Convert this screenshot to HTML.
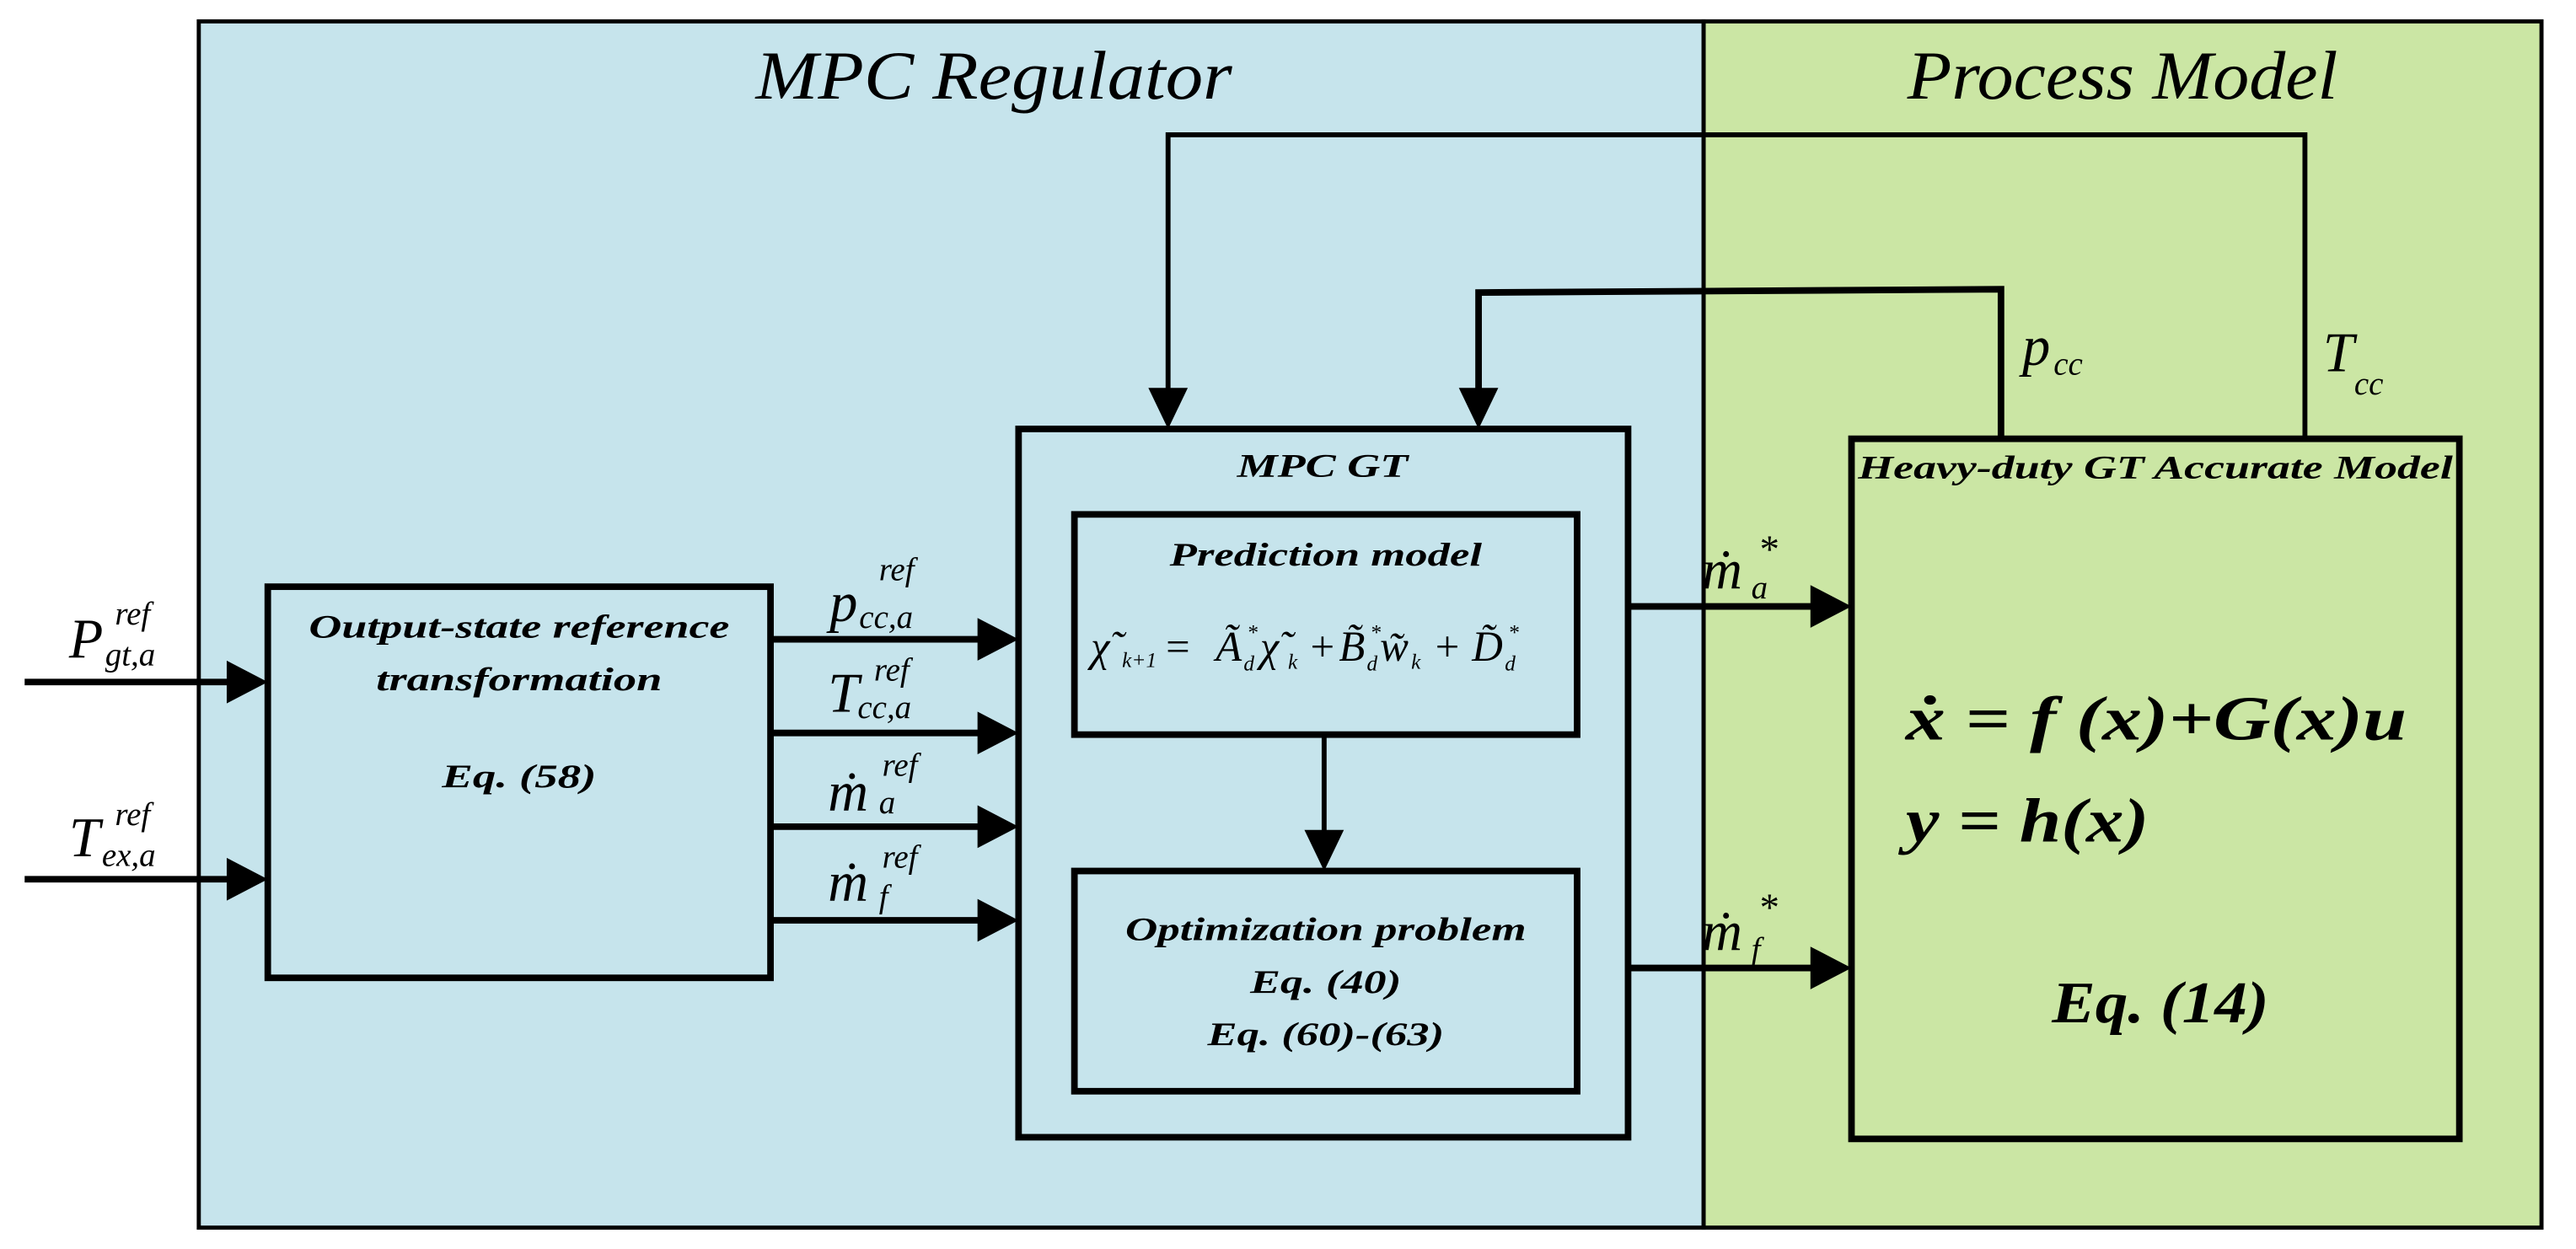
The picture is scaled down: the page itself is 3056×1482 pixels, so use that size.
<!DOCTYPE html>
<html><head><meta charset="utf-8"><style>
html,body{margin:0;padding:0;background:#fff;}
svg{display:block;}
svg text{font-family:"Liberation Serif","Times New Roman",Times,serif;font-style:italic;}
.b{font-weight:bold;}
.eq{font-size:26px;}
.es{font-size:13px;}
</style></head><body>
<svg width="3056" height="1482" viewBox="0 0 1568 760" preserveAspectRatio="none" xmlns="http://www.w3.org/2000/svg" font-family="Liberation Serif, Times New Roman, serif">
<rect x="121" y="13" width="916" height="734" fill="#c6e4ec" stroke="#000" stroke-width="2.5"/>
<rect x="1037" y="13" width="510" height="734" fill="#cbe6a4" stroke="#000" stroke-width="2.5"/>
<text x="605" y="60" font-size="42" text-anchor="middle" textLength="290" lengthAdjust="spacingAndGlyphs">MPC Regulator</text>
<text x="1292" y="60" font-size="42" text-anchor="middle" textLength="262" lengthAdjust="spacingAndGlyphs">Process Model</text>

<g fill="none" stroke="#000">
<polyline points="1403,267 1403,82 711,82 711,245" stroke-width="3"/>
<polyline points="1218,267 1218,176 900,178 900,245" stroke-width="4"/>
<rect x="163" y="357" width="306" height="238" stroke-width="4"/>
<rect x="620" y="261" width="371" height="431" stroke-width="4"/>
<rect x="654" y="313" width="306" height="134" stroke-width="4"/>
<rect x="654" y="530" width="306" height="134" stroke-width="4"/>
<rect x="1127" y="267" width="370" height="426" stroke-width="4"/>
<line x1="15" y1="415" x2="140" y2="415" stroke-width="4"/>
<line x1="15" y1="535" x2="140" y2="535" stroke-width="4"/>
<line x1="469" y1="389" x2="597" y2="389" stroke-width="4"/>
<line x1="469" y1="446" x2="597" y2="446" stroke-width="4"/>
<line x1="469" y1="503" x2="597" y2="503" stroke-width="4"/>
<line x1="469" y1="560" x2="597" y2="560" stroke-width="4"/>
<line x1="991" y1="369" x2="1104" y2="369" stroke-width="4"/>
<line x1="991" y1="589" x2="1104" y2="589" stroke-width="4"/>
<line x1="806" y1="447" x2="806" y2="508" stroke-width="3"/>
</g>
<g fill="#000">
<polygon points="138,402 163,415 138,428"/>
<polygon points="138,522 163,535 138,548"/>
<polygon points="595,376 620,389 595,402"/>
<polygon points="595,433 620,446 595,459"/>
<polygon points="595,490 620,503 595,516"/>
<polygon points="595,547 620,560 595,573"/>
<polygon points="1102,356 1127,369 1102,382"/>
<polygon points="1102,576 1127,589 1102,602"/>
<polygon points="794,505 806,530 818,505"/>
<polygon points="699,236 711,261 723,236"/>
<polygon points="888,236 900,261 912,236"/>
</g>

<text class="b" x="316" y="388" font-size="20" text-anchor="middle" textLength="256" lengthAdjust="spacingAndGlyphs">Output-state reference</text>
<text class="b" x="316" y="420" font-size="20" text-anchor="middle" textLength="174" lengthAdjust="spacingAndGlyphs">transformation</text>
<text class="b" x="316" y="479" font-size="20" text-anchor="middle" textLength="94" lengthAdjust="spacingAndGlyphs">Eq.  (58)</text>

<text class="b" x="805" y="290" font-size="20" text-anchor="middle" textLength="104" lengthAdjust="spacingAndGlyphs">MPC GT</text>
<text class="b" x="807" y="344" font-size="20" text-anchor="middle" textLength="190" lengthAdjust="spacingAndGlyphs">Prediction model</text>

<text class="eq" x="664" y="402">χ̃</text><text class="es" x="683" y="406">k+1</text>
<text class="eq" x="708" y="402">=</text>
<text class="eq" x="740" y="402">Ã</text><text class="es" x="757" y="408">d</text><text class="es" x="759" y="389">*</text>
<text class="eq" x="767" y="402">χ̃</text><text class="es" x="784" y="407">k</text>
<text class="eq" x="796" y="402">+</text>
<text class="eq" x="815" y="402">B̃</text><text class="es" x="832" y="408">d</text><text class="es" x="834" y="389">*</text>
<text class="eq" x="840" y="402">w̃</text><text class="es" x="859" y="407">k</text>
<text class="eq" x="872" y="402">+</text>
<text class="eq" x="896" y="402">D̃</text><text class="es" x="916" y="408">d</text><text class="es" x="918" y="389">*</text>

<text class="b" x="807" y="572" font-size="20" text-anchor="middle" textLength="244" lengthAdjust="spacingAndGlyphs">Optimization problem</text>
<text class="b" x="807" y="604" font-size="20" text-anchor="middle" textLength="92" lengthAdjust="spacingAndGlyphs">Eq. (40)</text>
<text class="b" x="807" y="636" font-size="20" text-anchor="middle" textLength="144" lengthAdjust="spacingAndGlyphs">Eq. (60)-(63)</text>

<text class="b" x="1312" y="291" font-size="20" text-anchor="middle" textLength="362" lengthAdjust="spacingAndGlyphs">Heavy-duty GT Accurate Model</text>
<text class="b" x="1160" y="450" font-size="38" textLength="305" lengthAdjust="spacingAndGlyphs">ẋ = f (x)+G(x)u</text>
<text class="b" x="1160" y="512" font-size="38" textLength="148" lengthAdjust="spacingAndGlyphs">y = h(x)</text>
<text class="b" x="1315" y="622" font-size="36" text-anchor="middle" textLength="132" lengthAdjust="spacingAndGlyphs">Eq. (14)</text>

<text x="42" y="400" font-size="34">P</text><text x="70" y="380" font-size="20">ref</text><text x="64" y="405" font-size="20">gt,a</text>
<text x="42" y="521" font-size="34">T</text><text x="70" y="502" font-size="20">ref</text><text x="62" y="527" font-size="20">ex,a</text>
<text x="505" y="378" font-size="34">p</text><text x="535" y="353" font-size="20">ref</text><text x="523" y="382" font-size="20">cc,a</text>
<text x="504" y="433" font-size="34">T</text><text x="532" y="414" font-size="20">ref</text><text x="522" y="437" font-size="20">cc,a</text>
<text x="504" y="493" font-size="34">ṁ</text><text x="537" y="472" font-size="20">ref</text><text x="535" y="495" font-size="20">a</text>
<text x="504" y="548" font-size="34">ṁ</text><text x="537" y="528" font-size="20">ref</text><text x="535" y="552" font-size="20">f</text>
<text x="1036" y="358" font-size="34">ṁ</text><text x="1070" y="342" font-size="24">*</text><text x="1066" y="364" font-size="20">a</text>
<text x="1036" y="578" font-size="34">ṁ</text><text x="1070" y="560" font-size="24">*</text><text x="1066" y="584" font-size="20">f</text>
<text x="1231" y="222" font-size="34">p</text><text x="1250" y="228" font-size="20">cc</text>
<text x="1414" y="226" font-size="34">T</text><text x="1433" y="240" font-size="20">cc</text>
</svg>
</body></html>
